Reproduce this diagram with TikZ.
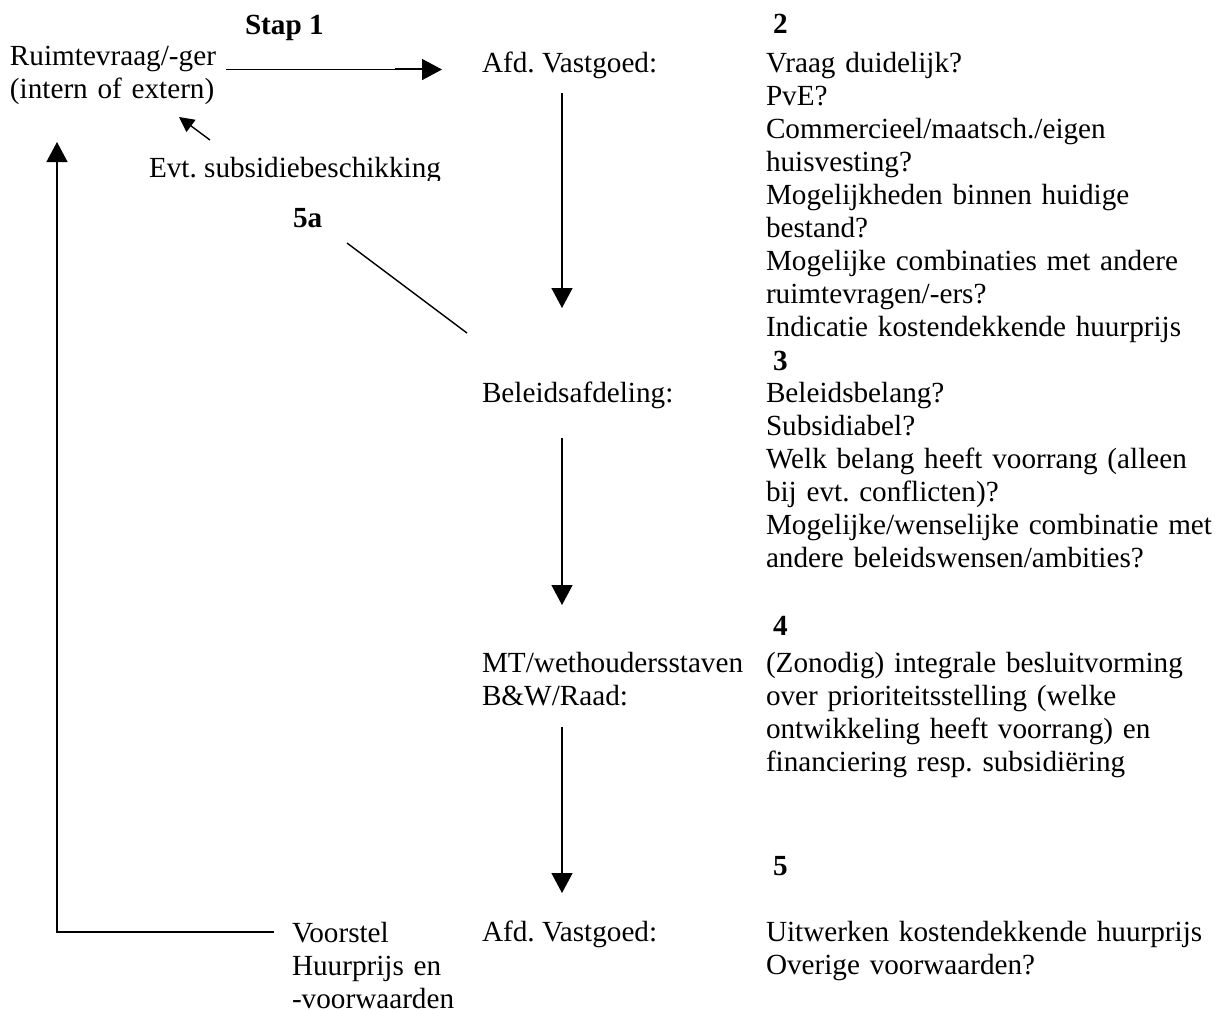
\documentclass[tikz,border=0pt]{standalone}
\usepackage{fontspec}
\setmainfont{Liberation Serif}
\usetikzlibrary{arrows.meta}
\frenchspacing
\begin{document}
\begin{tikzpicture}[x=0.5pt,y=-0.5pt,
  txt/.style={anchor=base west, inner sep=0pt, outer sep=0pt, font=\fontsize{14.6pt}{16.5pt}\selectfont},
  blk/.style={txt, text width=300pt, align=left},
  num/.style={txt, font=\fontsize{14.6pt}{16.5pt}\selectfont\bfseries},
  conn/.style={line width=0.7pt},
  arr/.style={conn, -{Triangle[length=10pt,width=10.5pt]}},
  sarr/.style={conn, -{Triangle[length=7.5pt,width=7.5pt]}},
]
\useasboundingbox (0,0) rectangle (1220,1009);
\fill[white] (0,0) rectangle (1220,1009);

% left column
\node[num] (stap) at (245,34) {Stap 1};
\node[blk] (ruimte) at (10,65) {Ruimtevraag/-ger\\(intern of extern)};
\begin{scope}
  \clip (140,140) rectangle (470,180);
  \node[txt] (evt) at (149,177) {Evt. subsidiebeschikking};
\end{scope}
\node[num] (n5a) at (293,227) {5a};
\node[blk] (voor) at (292,942) {Voorstel\\Huurprijs en\\-voorwaarden};

% middle column
\node[txt] (vg1) at (482,72) {Afd. Vastgoed:};
\node[txt] (bel) at (482,402) {Beleidsafdeling:};
\node[blk] (mt) at (482,672) {MT/wethoudersstaven\\B\&W/Raad:};
\node[txt] (vg2) at (482,941) {Afd. Vastgoed:};

% right column
\node[num] (n2) at (773,33) {2};
\node[blk] (b2) at (766,72) {Vraag duidelijk?\\PvE?\\Commercieel/maatsch./eigen\\huisvesting?\\Mogelijkheden binnen huidige\\bestand?\\Mogelijke combinaties met andere\\ruimtevragen/-ers?\\Indicatie kostendekkende huurprijs};
\node[num] (n3) at (773,370) {3};
\node[blk] (b3) at (766,402) {Beleidsbelang?\\Subsidiabel?\\Welk belang heeft voorrang (alleen\\bij evt. conflicten)?\\Mogelijke/wenselijke combinatie met\\andere beleidswensen/ambities?};
\node[num] (n4) at (773,635) {4};
\node[blk] (b4) at (766,672) {(Zonodig) integrale besluitvorming\\over prioriteitsstelling (welke\\ontwikkeling heeft voorrang) en\\financiering resp. subsidiëring};
\node[num] (n5) at (773,875) {5};
\node[blk] (b5) at (766,941) {Uitwerken kostendekkende huurprijs\\Overige voorwaarden?};

% connector end points
\coordinate (h1s) at (226,69.5);
\coordinate (h1m) at (395,68.8);
\coordinate (h1n) at (430,68.8);
\coordinate (h1e) at (442,69.5);
\coordinate (a1s) at (562,93);
\coordinate (a1e) at (562,308);
\coordinate (a2s) at (562,438);
\coordinate (a2e) at (562,605);
\coordinate (a3s) at (562,727);
\coordinate (a3e) at (562,893);
\coordinate (fbs) at (274,932);
\coordinate (fbc) at (57,932);
\coordinate (fbe) at (57,142);
\coordinate (l5s) at (347,243);
\coordinate (l5e) at (467,333);
\coordinate (evs) at (210,140);
\coordinate (eve) at (179,117);

% connectors
\draw[arr] (h1s) -- (h1e);
\draw[conn] (h1m) -- (h1n);
\draw[arr] (a1s) -- (a1e);
\draw[arr] (a2s) -- (a2e);
\draw[arr] (a3s) -- (a3e);
\draw[arr] (fbs) -- (fbc) -- (fbe);
\draw[conn] (l5s) -- (l5e);
\draw[sarr] (evs) -- (eve);
\end{tikzpicture}
\end{document}
